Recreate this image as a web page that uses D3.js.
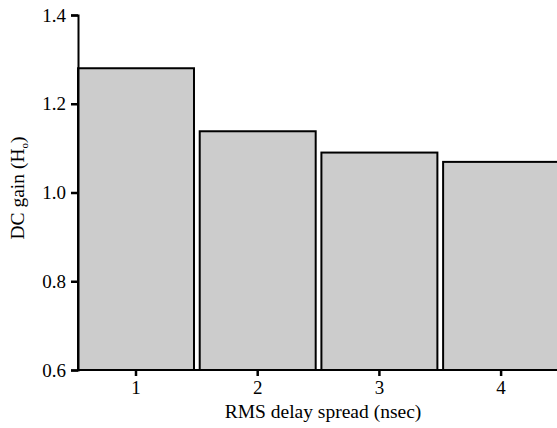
<!DOCTYPE html>
<html><head><meta charset="utf-8">
<script src="https://cdn.jsdelivr.net/npm/d3@7"></script>
<style>body{margin:0;background:#fff}svg{display:block}
svg text{font-family:"Liberation Serif","Times New Roman",serif !important;fill:#000}</style>
</head><body>
<script>
const categories = ["1","2","3","4"];
const values = [1.28, 1.138, 1.09, 1.069];
const yTicks = [0.6, 0.8, 1.0, 1.2, 1.4];

const W = 557, H = 428;
const svg = d3.select("body").append("svg").attr("width", W).attr("height", H);

const x = d3.scaleBand().domain(categories).range([75.15, 561.95]).paddingInner(0.047).paddingOuter(0.0235);
const y = d3.scaleLinear().domain([0.6, 1.4]).range([370, 15]);

svg.append("g").selectAll("rect").data(values).join("rect")
  .attr("x", (d,i) => x(categories[i]))
  .attr("y", d => y(d))
  .attr("width", x.bandwidth())
  .attr("height", d => y(0.6) - y(d))
  .attr("fill", "#cccccc").attr("stroke", "#000").attr("stroke-width", 2);

const yAxis = svg.append("g").attr("transform", "translate(78,0)")
  .call(d3.axisLeft(y).tickValues(yTicks).tickFormat(d3.format(".1f")).tickSize(7).tickPadding(5));
const xAxis = svg.append("g").attr("transform", "translate(0,370)")
  .call(d3.axisBottom(x).tickSize(6).tickPadding(5));
xAxis.select(".domain").attr("d", "M78,0H557");
[yAxis, xAxis].forEach(g => {
  g.select(".domain").attr("stroke", "#000").attr("stroke-width", 2);
  g.selectAll(".tick line").attr("stroke", "#000").attr("stroke-width", 2.5);
  g.selectAll(".tick text").style("font-size", "19px");
});

svg.append("text").attr("x", 323).attr("y", 418).attr("text-anchor", "middle")
  .style("font-size", "19.5px").text("RMS delay spread (nsec)");

const yl = svg.append("text").attr("transform", "translate(24,188) rotate(-90)").attr("text-anchor", "middle")
  .style("font-size", "19.5px");
yl.append("tspan").text("DC gain (H");
yl.append("tspan").style("font-size", "11px").attr("dy", 4).text("o");
yl.append("tspan").attr("dy", -4).text(")");
</script>
</body></html>
